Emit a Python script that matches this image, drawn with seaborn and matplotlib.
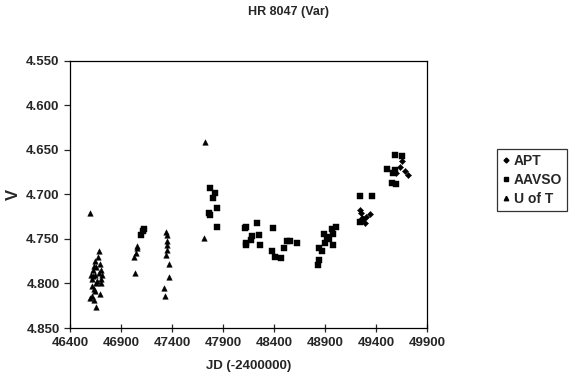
import matplotlib
matplotlib.use("Agg")
import matplotlib.pyplot as plt
import seaborn as sns
import numpy as np
import pandas as pd

# data (JD - 2400000, V magnitude)
apt_jd = [49240, 49255, 49262, 49275, 49290, 49300, 49341, 49600, 49640, 49655, 49684, 49714]
apt_v = [4.717, 4.721, 4.726, 4.728, 4.732, 4.725, 4.722, 4.676, 4.669, 4.662, 4.674, 4.678]

aavso_jd = [47100, 47112, 47128,
            47773, 47800, 47818, 47760, 47770, 47842, 47845,
            48116, 48130, 48233, 48125, 48128, 48180, 48185, 48250, 48260,
            48392, 48385, 48415, 48469, 48495, 48525, 48560, 48625,
            48833, 48845, 48840, 48870, 48900, 48895, 48925, 48945, 48968, 48975, 48980, 49010,
            49243, 49360, 49245,
            49508, 49586, 49655, 49572, 49590, 49562, 49595]
aavso_v = [4.745, 4.741, 4.739,
           4.693, 4.704, 4.698, 4.721, 4.723, 4.715, 4.737,
           4.738, 4.736, 4.732, 4.757, 4.755, 4.751, 4.747, 4.746, 4.757,
           4.738, 4.763, 4.770, 4.771, 4.760, 4.752, 4.752, 4.755,
           4.779, 4.774, 4.760, 4.764, 4.755, 4.744, 4.748, 4.750, 4.739, 4.757, 4.744, 4.737,
           4.702, 4.702, 4.731,
           4.671, 4.656, 4.657, 4.676, 4.673, 4.687, 4.688]

uoft_jd = [46596, 46610, 46625, 46640, 46650, 46660, 46672, 46680, 46690, 46700,
           46615, 46630, 46645, 46655, 46668, 46685, 46700, 46710, 46620, 46640,
           46600, 46620, 46650, 46690, 46700, 46660, 46635,
           47037, 47030, 47045, 47055, 47060,
           47345, 47348, 47350, 47352, 47355, 47340, 47372, 47372, 47325, 47333,
           47724, 47714]
uoft_v = [4.721, 4.790, 4.785, 4.780, 4.775, 4.782, 4.770, 4.763, 4.778, 4.785,
          4.795, 4.792, 4.790, 4.800, 4.797, 4.788, 4.795, 4.790, 4.803, 4.806,
          4.816, 4.814, 4.808, 4.812, 4.800, 4.826, 4.818,
          4.788, 4.770, 4.766, 4.760, 4.758,
          4.742, 4.746, 4.752, 4.757, 4.762, 4.768, 4.778, 4.793, 4.805, 4.814,
          4.641, 4.749]

series = {
    "APT": (apt_jd, apt_v),
    "AAVSO": (aavso_jd, aavso_v),
    "U of T": (uoft_jd, uoft_v),
}
markers = {"APT": "D", "AAVSO": "s", "U of T": "^"}
msize = {"APT": 10, "AAVSO": 16, "U of T": 16}

sns.set_style("ticks")
plt.rcParams["font.family"] = ["Liberation Sans", "DejaVu Sans"]
plt.rcParams["font.weight"] = "bold"

fig = plt.figure(figsize=(5.76, 3.83), dpi=100)
ax = fig.add_axes([0.1215, 0.1436, 0.6195, 0.6974])

for name, (jd, v) in series.items():
    d = pd.DataFrame({"JD": jd, "V": v})
    sns.scatterplot(data=d, x="JD", y="V", marker=markers[name], s=msize[name],
                    color="black", edgecolor="black", linewidth=0.3, ax=ax,
                    legend=False)

ax.set_xlim(46400, 49900)
ax.set_xticks(np.arange(46400, 49901, 500))
ax.set_ylim(4.85, 4.55)
ax.set_yticks(np.arange(4.55, 4.851, 0.05))
ax.set_yticklabels([f"{t:.3f}" for t in np.arange(4.55, 4.851, 0.05)])
for s in ax.spines.values():
    s.set_linewidth(0.9)
    s.set_color("black")
ax.tick_params(axis="x", direction="inout", length=6, width=0.9, labelsize=9.5)
ax.tick_params(axis="y", direction="out", length=4, width=0.9, labelsize=9.5)
for lab in ax.get_xticklabels() + ax.get_yticklabels():
    lab.set_fontweight("bold")

ax.set_xlabel("JD (-2400000)", fontsize=9.5, fontweight="bold", labelpad=8)
ax.set_ylabel("V", fontsize=12, fontweight="bold", labelpad=4)
fig.suptitle("HR 8047 (Var)", x=0.5, y=0.985, fontsize=9, fontweight="bold")

handles = [
    plt.Line2D([], [], marker="D", color="black", linestyle="", markersize=2.5),
    plt.Line2D([], [], marker="s", color="black", linestyle="", markersize=3.2),
    plt.Line2D([], [], marker="^", color="black", linestyle="", markersize=3.2),
]
leg = fig.legend(handles, ["APT", "AAVSO", "U of T"], loc="upper left",
                 bbox_to_anchor=(0.862, 0.61), frameon=True, fancybox=False,
                 edgecolor="black", fontsize=10, handlelength=0.6,
                 handletextpad=0.3, borderpad=0.35, labelspacing=0.35,
                 borderaxespad=0)
leg.get_frame().set_linewidth(0.9)
for t in leg.get_texts():
    t.set_fontweight("bold")

fig.savefig("out.png", dpi=100)
